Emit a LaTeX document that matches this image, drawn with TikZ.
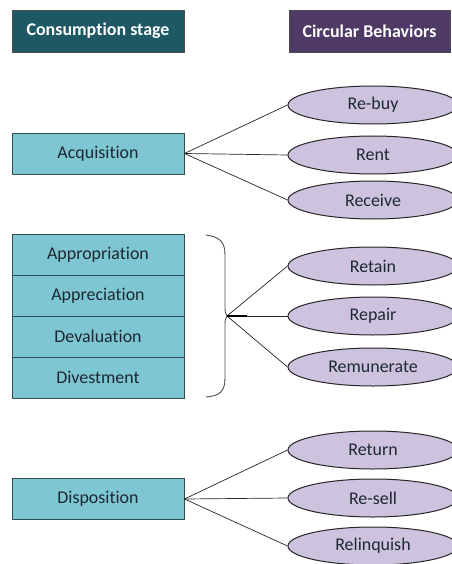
\documentclass[tikz,border=0pt]{standalone}
\usepackage{fontspec}
\setmainfont[Ligatures=NoCommon]{Carlito}
\usetikzlibrary{shapes.geometric}
\definecolor{hdteal}{HTML}{1E5864}
\definecolor{hdpurple}{HTML}{4F3A65}
\definecolor{boxfill}{HTML}{7EC6D2}
\definecolor{boxline}{HTML}{2F4F55}
\definecolor{ellfill}{HTML}{CEC3DE}
\definecolor{txt}{HTML}{1C2833}
\tikzset{
  header/.style={draw=black!70, minimum height=42bp, text=white, font=\fontsize{18}{20}\selectfont\bfseries, inner sep=0pt},
  stagebox/.style={draw=boxline, fill=boxfill, minimum width=172bp, minimum height=41bp, text=txt, font=\fontsize{18}{20}\selectfont, inner sep=0pt, line width=0.9bp},
  behav/.style={ellipse, draw=black!85, fill=ellfill, minimum width=170bp, minimum height=38bp, text=txt, font=\fontsize{18}{20}\selectfont, inner sep=0pt, line width=1bp},
  link/.style={draw=black!85, line width=0.7bp}
}
\begin{document}
\begin{tikzpicture}[x=1bp,y=-1bp]
\useasboundingbox (0,0) rectangle (452,564);
\node[header, fill=hdteal, minimum width=172bp] (hL) at (98,31) {Consumption stage};
\node[header, fill=hdpurple, minimum width=161bp] (hR) at (369.5,31) {Circular Behaviors};

\node[stagebox] (acq) at (98,153.5) {Acquisition};
\node[stagebox] (app) at (98,254.5) {Appropriation};
\node[stagebox] (apc) at (98,295.5) {Appreciation};
\node[stagebox] (dev) at (98,336.5) {Devaluation};
\node[stagebox] (div) at (98,377.5) {Divestment};
\node[stagebox] (dis) at (98,499) {Disposition};

\node[behav] (rebuy) at (373,105) {Re-buy};
\node[behav] (rent) at (373,155) {Rent};
\node[behav] (recv) at (373,200) {Receive};
\node[behav] (retain) at (373,266) {Retain};
\node[behav] (repair) at (373,316) {Repair};
\node[behav] (remun) at (373,367) {Remunerate};
\node[behav] (return) at (373,450) {Return};
\node[behav] (resell) at (373,498) {Re-sell};
\node[behav] (relinq) at (373,546) {Relinquish};

% brace
\coordinate (btop) at (206,235);
\coordinate (bbot) at (206,397);
\coordinate (tip) at (227,316);
\coordinate (tipend) at (247,316);
\draw[black!70, line width=0.9bp] (btop) .. controls (220,237) and (225,242) .. (225,255)
  -- (225,306) .. controls (225,312) .. (tip)
  .. controls (225,320) .. (225,326) -- (225,378)
  .. controls (225,391) and (220,396) .. (bbot);

\draw[link] (acq.east) -- (rebuy.west);
\draw[link] (acq.east) -- (rent.west);
\draw[link] (acq.east) -- (recv.west);
\draw[link] (tip) -- (retain.west);
\draw[link] (tip) -- (repair.west);
\draw[link] (tip) -- (remun.west);
\draw[black, line width=1.5bp] (tip) -- (tipend);
\draw[link] (dis.east) -- (return.west);
\draw[link] (dis.east) -- (resell.west);
\draw[link] (dis.east) -- (relinq.west);
\end{tikzpicture}
\end{document}
